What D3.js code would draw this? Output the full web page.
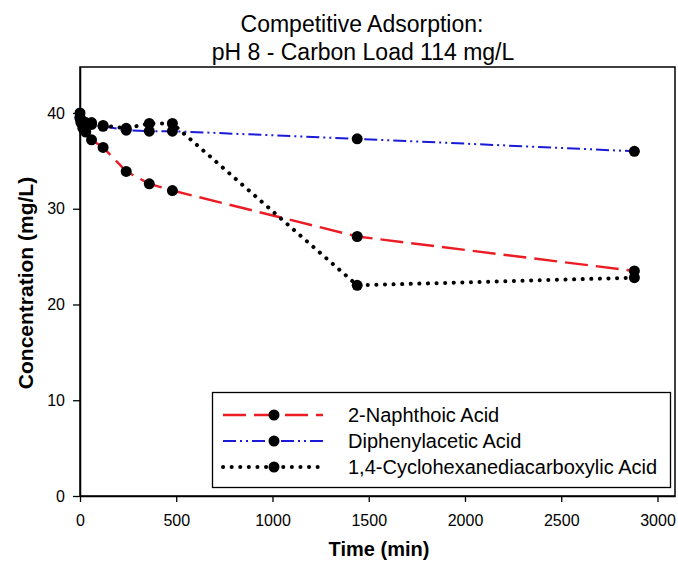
<!DOCTYPE html>
<html>
<head>
<meta charset="utf-8">
<script src="https://cdn.jsdelivr.net/npm/d3@7"></script>
<style>
  html, body { margin: 0; padding: 0; background: #fff; }
  svg { display: block; font-family: "Liberation Sans", Arial, sans-serif; }
</style>
</head>
<body>
<svg id="chart" width="678" height="569"></svg>
<script>
// Sampling times (min)
const times = [0, 5, 15, 30, 60, 120, 240, 360, 480, 1440, 2880];

// Concentrations (mg/L) for each compound
const naphthoic   = [40.0, 39.3, 38.7, 38.0, 37.2, 36.4, 33.9, 32.6, 31.9, 27.1, 23.5];
const diphenyl    = [39.5, 39.2, 39.0, 38.6, 38.8, 38.6, 38.2, 38.1, 38.1, 37.3, 36.0];
const cyclohexane = [39.5, 39.0, 38.4, 39.0, 39.0, 38.7, 38.4, 38.9, 38.9, 22.0, 22.8];

const seriesNames = ["2-Naphthoic Acid", "Diphenylacetic Acid", "1,4-Cyclohexanediacarboxylic Acid"];
const xTicks = [0, 500, 1000, 1500, 2000, 2500, 3000];
const yTicks = [0, 10, 20, 30, 40];

const series = [
  { name: seriesNames[0], values: naphthoic,   color: "#ec1c24", width: 2.4, dash: "23,8",         cap: "butt"  },
  { name: seriesNames[1], values: diphenyl,    color: "#1a1ad8", width: 2,   dash: "13,4,2,4,2,4", cap: "butt"  },
  { name: seriesNames[2], values: cyclohexane, color: "#000000", width: 4,   dash: "0.1,8.5",      cap: "round" }
];

const svg = d3.select("#chart");
const plotL = 80, plotR = 675, plotT = 67, plotB = 496;

const x = d3.scaleLinear().domain([0, 3091]).range([plotL, plotR]);
const y = d3.scaleLinear().domain([0, 44.8]).range([plotB, plotT]);

// Plot frame
svg.append("rect")
  .attr("x", plotL).attr("y", plotT)
  .attr("width", plotR - plotL).attr("height", plotB - plotT)
  .attr("fill", "none").attr("stroke", "#000").attr("stroke-width", 1.5);

// Axes
const xAxis = svg.append("g")
  .attr("transform", `translate(0,${plotB})`)
  .call(d3.axisBottom(x).tickValues(xTicks).tickFormat(d3.format("d"))
    .tickSize(6).tickPadding(13).tickSizeOuter(0));
const yAxis = svg.append("g")
  .attr("transform", `translate(${plotL},0)`)
  .call(d3.axisLeft(y).tickValues(yTicks).tickFormat(d3.format("d"))
    .tickSize(7).tickPadding(8).tickSizeOuter(0));
[xAxis, yAxis].forEach(g => {
  g.select(".domain").attr("stroke", "#000").attr("stroke-width", 1.5);
  g.selectAll(".tick line").attr("stroke", "#000").attr("stroke-width", 1.3);
  g.selectAll(".tick text")
    .attr("fill", "#000")
    .style("font-size", "16px")
    .style("font-family", "'Liberation Sans', Arial, sans-serif");
});

// Series lines and markers
const line = d3.line().x(d => x(d[0])).y(d => y(d[1]));
series.forEach(s => {
  const pts = times.map((t, i) => [t, s.values[i]]);
  svg.append("path")
    .datum(pts)
    .attr("d", line)
    .attr("fill", "none")
    .attr("stroke", s.color)
    .attr("stroke-width", s.width)
    .attr("stroke-dasharray", s.dash)
    .attr("stroke-linecap", s.cap);
});
series.forEach(s => {
  svg.append("g").selectAll("circle")
    .data(times.map((t, i) => [t, s.values[i]]))
    .join("circle")
    .attr("cx", d => x(d[0]))
    .attr("cy", d => y(d[1]))
    .attr("r", 5.5)
    .attr("fill", "#000");
});

// Titles
svg.append("text")
  .attr("x", 362).attr("y", 32)
  .attr("text-anchor", "middle")
  .style("font-size", "23px")
  .text("Competitive Adsorption:");
svg.append("text")
  .attr("x", 363).attr("y", 60)
  .attr("text-anchor", "middle")
  .style("font-size", "23px")
  .text("pH 8 - Carbon Load 114 mg/L");

// Axis labels
svg.append("text")
  .attr("x", 379).attr("y", 556)
  .attr("text-anchor", "middle")
  .style("font-size", "20px").style("font-weight", "bold")
  .text("Time (min)");
svg.append("text")
  .attr("transform", "translate(33,283) rotate(-90)")
  .attr("text-anchor", "middle")
  .style("font-size", "21px").style("font-weight", "bold")
  .text("Concentration (mg/L)");

// Legend
const legend = svg.append("g");
legend.append("rect")
  .attr("x", 212.5).attr("y", 392.5)
  .attr("width", 458).attr("height", 95)
  .attr("fill", "#fff").attr("stroke", "#000").attr("stroke-width", 1.3);
series.forEach((s, i) => {
  const ly = 415 + i * 26;
  legend.append("line")
    .attr("x1", 223).attr("x2", 323).attr("y1", ly).attr("y2", ly)
    .attr("stroke", s.color)
    .attr("stroke-width", s.width)
    .attr("stroke-dasharray", s.dash)
    .attr("stroke-linecap", s.cap);
  legend.append("circle")
    .attr("cx", 274).attr("cy", ly).attr("r", 5.5).attr("fill", "#000");
  legend.append("text")
    .attr("x", 348).attr("y", ly + 7)
    .style("font-size", "20px")
    .text(s.name);
});
</script>
</body>
</html>
